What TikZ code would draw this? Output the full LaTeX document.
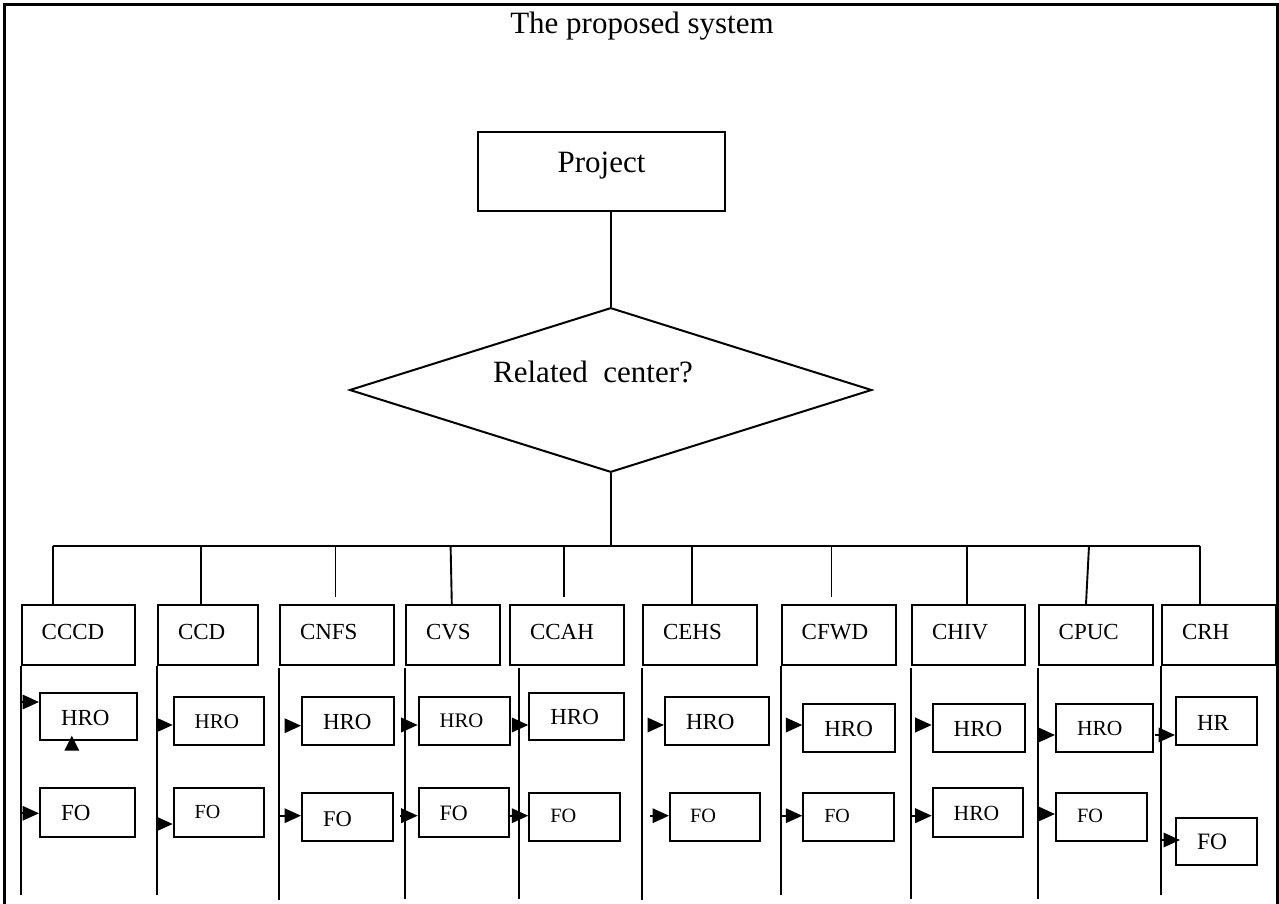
\documentclass[tikz,border=0pt]{standalone}
\usepackage{fontspec}
\setmainfont{Liberation Serif}
\usetikzlibrary{shapes.geometric,arrows.meta,calc}
% box text: width, left pad, baseline lift, text
\newcommand\lbl[4]{\makebox[#1pt][l]{\hspace*{#2pt}\raisebox{#3pt}[0pt][0pt]{#4}}}
\newcommand\fs[1]{\fontsize{#1pt}{#1pt}\selectfont}
\begin{document}
\begin{tikzpicture}[x=1pt,y=-1pt,
  bx/.style={draw, line width=2pt, inner sep=0pt, anchor=north west, minimum height=#1},
  ln/.style={line width=1.9pt},
  arr/.style={line width=1.9pt, -{Triangle[length=16.5pt,width=14.5pt]}}]
\useasboundingbox (0,0) rectangle (1279,904);

% frame
\draw[line width=3pt] (4,904) -- (4,4.3) -- (1277.5,4.3);
\draw[line width=2.5pt] (1277.5,2.8) -- (1277.5,904);

\node[font=\fs{31}, anchor=base] (title) at (642,33.3) {The proposed system};

\node[draw, line width=2pt, inner sep=0pt, minimum width=247pt, minimum height=79pt,
      anchor=north west, font=\fs{31}] (proj) at (477,131) {\raisebox{-1pt}[0pt][0pt]{Project}};

\node[diamond, draw, line width=2pt, inner sep=0pt, minimum width=522.2pt,
      minimum height=164.6pt, font=\fs{31}] (dia) at (610.7,390)
      {\makebox[0pt]{\hspace*{-35.4pt}\raisebox{7.3pt}[0pt][0pt]{Related\ \ center?}}};

\draw[ln] (dia.north |- proj.south) -- (dia.north);

% centres
\node[bx=60pt, font=\fs{23}] (cccd) at (20.7,604) {\lbl{113.3}{20}{-4.3}{CCCD}};
\node[bx=60pt, font=\fs{23}] (ccd)  at (157,604)  {\lbl{100}{20}{-4.3}{CCD}};
\node[bx=60pt, font=\fs{23}] (cnfs) at (279,604)  {\lbl{114}{20}{-4.3}{CNFS}};
\node[bx=60pt, font=\fs{23}] (cvs)  at (405,604)  {\lbl{94}{20}{-4.3}{CVS}};
\node[bx=60pt, font=\fs{23}] (ccah) at (509,604)  {\lbl{114}{20}{-4.3}{CCAH}};
\node[bx=60pt, font=\fs{23}] (cehs) at (642,604)  {\lbl{114}{20}{-4.3}{CEHS}};
\node[bx=60pt, font=\fs{23}] (cfwd) at (780.7,604) {\lbl{114}{20}{-4.3}{CFWD}};
\node[bx=60pt, font=\fs{23}] (chiv) at (911,604)  {\lbl{113.3}{20}{-4.3}{CHIV}};
\node[bx=60pt, font=\fs{23}] (cpuc) at (1037.7,604) {\lbl{114}{20}{-4.3}{CPUC}};
\node[bx=60pt, font=\fs{23}] (crh)  at (1161,604) {\lbl{114}{20}{-4.3}{CRH}};

% bus and drops
\coordinate (d1) at (53,546);
\coordinate (d2) at (201,546);
\coordinate (d3) at (335.5,546);
\coordinate (d4) at (450.6,546);
\coordinate (d5) at (564,546);
\coordinate (d6) at (692,546);
\coordinate (d7) at (831.5,546);
\coordinate (d8) at (967,546);
\coordinate (d9) at (1089,546);
\coordinate (d10) at (1200,546);
\draw[ln] (dia.south) -- (dia.south |- d1);
\draw[ln] (d1) -- (d10);
\draw[ln] (d1) -- (d1 |- cccd.north);
\draw[ln] (d2) -- (d2 |- ccd.north);
\draw[ln] (d3) -- ($(d3 |- cnfs.north)+(0,-7)$);
\draw[ln] (d4) -- ($(d4 |- cvs.north)+(1.2,0)$);
\draw[ln] (d5) -- ($(d5 |- ccah.north)+(0,-7)$);
\draw[ln] (d6) -- (d6 |- cehs.north);
\draw[ln] (d7) -- ($(d7 |- cfwd.north)+(0,-7)$);
\draw[ln] (d8) -- (d8 |- chiv.north);
\draw[ln] (d9) -- ($(d9 |- cpuc.north)+(-3,0)$);
\draw[ln] (d10) -- (d10 |- crh.north);

% lanes
\coordinate (e1) at (20.7,895);
\coordinate (e2) at (157,895);
\coordinate (t3) at (279,668);    \coordinate (e3) at (279,900);
\coordinate (t4) at (405,668);    \coordinate (e4) at (405,899);
\coordinate (t5) at (519,668);    \coordinate (e5) at (519,899);
\coordinate (t6) at (642.3,668);  \coordinate (e6) at (642.3,900);
\coordinate (e7) at (780.7,895);
\coordinate (t8) at (910.7,668);  \coordinate (e8) at (910.7,899);
\coordinate (t9) at (1037.7,668); \coordinate (e9) at (1037.7,899);
\coordinate (e10) at (1161,895);
\draw[ln] (cccd.south west) -- (e1);
\draw[ln] (ccd.south west) -- (e2);
\draw[ln] (t3) -- (e3);
\draw[ln] (t4) -- (e4);
\draw[ln] (t5) -- (e5);
\draw[ln] (t6) -- (e6);
\draw[ln] (cfwd.south west) -- (e7);
\draw[ln] (t8) -- (e8);
\draw[ln] (t9) -- (e9);
\draw[ln] (crh.south west) -- (e10);

% first row of offices
\node[bx=47.6pt, font=\fs{23}]   (h1)  at (39,691.7)    {\lbl{96.7}{21}{-8.7}{HRO}};
\node[bx=48.3pt, font=\fs{21}]   (h2)  at (172.7,695.7) {\lbl{90.6}{21}{-8.0}{HRO}};
\node[bx=48pt,   font=\fs{23}]   (h3)  at (301,696)     {\lbl{92.3}{21}{-8.2}{HRO}};
\node[bx=48.3pt, font=\fs{20.7}] (h4)  at (417.7,695.7) {\lbl{91.3}{21}{-6.2}{HRO}};
\node[bx=47.6pt, font=\fs{23}]   (h5)  at (528.3,691.7) {\lbl{94.4}{21}{-8.0}{HRO}};
\node[bx=48.3pt, font=\fs{23}]   (h6)  at (664,695.7)   {\lbl{103.7}{21}{-8.4}{HRO}};
\node[bx=48pt,   font=\fs{23}]   (h7)  at (802.3,702.7) {\lbl{91.7}{21}{-8.5}{HRO}};
\node[bx=48pt,   font=\fs{23}]   (h8)  at (931.7,702.7) {\lbl{92.6}{21}{-8.5}{HRO}};
\node[bx=48pt,   font=\fs{21.5}] (h9)  at (1055,702.7)  {\lbl{96.7}{21}{-8.05}{HRO}};
\node[bx=48pt,   font=\fs{23}]   (h10) at (1175,696)    {\lbl{80.7}{21}{-9.2}{HR}};

% second row of offices
\node[bx=49.3pt, font=\fs{23}]   (f1)  at (39,786.7)    {\lbl{95}{21}{-8.2}{FO}};
\node[bx=48.7pt, font=\fs{20}]   (f2)  at (172.7,787.3) {\lbl{90.6}{21}{-5.9}{FO}};
\node[bx=48pt,   font=\fs{22.5}] (f3)  at (301,792)     {\lbl{90.7}{21}{-9.7}{FO}};
\node[bx=48.4pt, font=\fs{22}]   (f4)  at (417.7,787.3) {\lbl{90.6}{21}{-8.0}{FO}};
\node[bx=48.3pt, font=\fs{20.3}] (f5)  at (528.3,791.7) {\lbl{90.7}{21}{-5.8}{FO}};
\node[bx=48pt,   font=\fs{20.3}] (f6)  at (669,792)     {\lbl{90.3}{20}{-5.65}{FO}};
\node[bx=48.3pt, font=\fs{20}]   (f7)  at (802.3,791.7) {\lbl{90.4}{21}{-5.7}{FO}};
\node[bx=48.4pt, font=\fs{21.6}] (f8)  at (931.7,787.3) {\lbl{90}{21}{-8.3}{HRO}};
\node[bx=48pt,   font=\fs{20.3}] (f9)  at (1055,792)    {\lbl{90.7}{21}{-5.65}{FO}};
\node[bx=47.6pt, font=\fs{23.5}] (f10) at (1175,816.7)  {\lbl{80.7}{21}{-8.2}{FO}};

% small marker under the first office
\fill (64.3,750.7) -- (79.3,750.7) -- (71.8,735.7) -- cycle;

% arrows into the offices
\coordinate (a1) at (20.7,702);   \draw[arr] (a1) -- (a1 -| h1.west);
\coordinate (a2) at (157,725);    \draw[arr] (a2) -- (a2 -| h2.west);
\coordinate (a3) at (290,725.7);  \draw[arr] (a3) -- (a3 -| h3.west);
\coordinate (a4) at (405,725);    \draw[arr] (a4) -- (a4 -| h4.west);
\coordinate (a5) at (519,725);    \draw[arr] (a5) -- (a5 -| h5.west);
\coordinate (a6) at (649.3,725);  \draw[arr] (a6) -- (a6 -| h6.west);
\coordinate (a7) at (790.7,725);  \draw[arr] (a7) -- (a7 -| h7.west);
\coordinate (a8) at (919,725);    \draw[arr] (a8) -- (a8 -| h8.west);
\coordinate (a9) at (1045,735);   \draw[arr] (a9) -- (a9 -| h9.west);
\coordinate (a10) at (1155,735);  \draw[arr] (a10) -- (a10 -| h10.west);

\coordinate (b1) at (20.7,813.3);  \draw[arr] (b1) -- (b1 -| f1.west);
\coordinate (b2) at (157,824);     \draw[arr] (b2) -- (b2 -| f2.west);
\coordinate (b3) at (279,815.7);   \draw[arr] (b3) -- (b3 -| f3.west);
\coordinate (b4) at (400,815.7);   \draw[arr] (b4) -- (b4 -| f4.west);
\coordinate (b5) at (510,815.7);   \draw[arr] (b5) -- (b5 -| f5.west);
\coordinate (b6) at (650,815.7);   \draw[arr] (b6) -- (b6 -| f6.west);
\coordinate (b7) at (780.7,815.7); \draw[arr] (b7) -- (b7 -| f7.west);
\coordinate (b8) at (910.7,815.7); \draw[arr] (b8) -- (b8 -| f8.west);
\coordinate (b9) at (1037.7,814);  \draw[arr] (b9) -- (b9 -| f9.west);
\coordinate (b10) at (1161,840);   \draw[arr] (b10) -- ($(b10 -| f10.west)+(5,0)$);
\end{tikzpicture}
\end{document}
